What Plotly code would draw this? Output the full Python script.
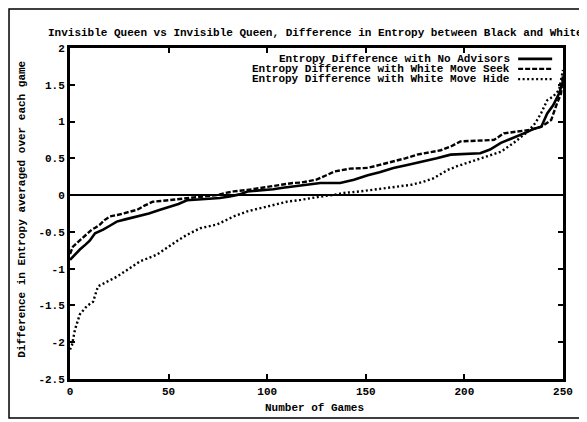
import plotly.graph_objects as go

# ---------------- data ----------------
games_no_adv = [0, 1, 3, 5, 8, 10, 12.7, 14.5, 16.8, 20, 23.7, 28, 34, 40, 45.7, 50.8, 55, 59.3,
                65, 71, 76, 81, 86, 90, 96, 103, 108, 113, 118, 122, 127, 132, 137, 144, 151,
                157, 164, 171, 179, 186, 193, 200, 208, 213, 218.5, 223, 228.7, 232, 235, 239,
                242, 245, 248, 250]
entropy_no_adv = [-0.88, -0.85, -0.80, -0.74, -0.67, -0.62, -0.52, -0.50, -0.47, -0.42, -0.36,
                  -0.33, -0.29, -0.25, -0.20, -0.16, -0.12, -0.07, -0.06, -0.05, -0.04, -0.02,
                  0.01, 0.05, 0.06, 0.08, 0.10, 0.115, 0.13, 0.14, 0.165, 0.165, 0.165, 0.21,
                  0.27, 0.31, 0.37, 0.41, 0.455, 0.50, 0.55, 0.56, 0.57, 0.62, 0.71, 0.76, 0.82,
                  0.86, 0.90, 0.93, 1.11, 1.22, 1.38, 1.55]

games_seek = [0, 1.5, 4, 6.6, 9, 11, 13, 15.2, 17.5, 20.3, 24, 28.8, 34, 38, 42, 46, 51, 55,
              59.3, 65, 70, 74.5, 79, 83, 90, 95, 100, 106, 113, 117, 121, 125, 130, 134, 142,
              151, 157, 164, 170, 176, 182, 188, 193, 198, 206.6, 215, 220, 227, 234, 239, 244,
              247, 249, 250]
entropy_seek = [-0.80, -0.70, -0.64, -0.58, -0.52, -0.47, -0.44, -0.40, -0.34, -0.29, -0.27,
                -0.24, -0.20, -0.14, -0.09, -0.08, -0.065, -0.05, -0.04, -0.03, -0.01, 0.0,
                0.03, 0.05, 0.07, 0.09, 0.11, 0.13, 0.165, 0.17, 0.19, 0.21, 0.27, 0.32, 0.36,
                0.37, 0.41, 0.455, 0.50, 0.55, 0.58, 0.61, 0.66, 0.73, 0.74, 0.75, 0.84, 0.86,
                0.89, 0.93, 1.02, 1.25, 1.38, 1.65]

games_hide = [0, 1, 2.5, 5, 8.5, 11.7, 14.2, 18.6, 23.7, 28.8, 35.6, 44, 50.8, 55, 59.3, 66,
              74.5, 79, 83, 90, 100, 110, 117, 122, 127, 133, 139, 147, 153, 159, 166, 173,
              179, 184.5, 191.4, 196, 201.6, 206, 210, 214, 218.5, 225, 229, 232, 236, 239,
              242, 245, 248, 250]
entropy_hide = [-2.10, -2.04, -1.83, -1.62, -1.51, -1.45, -1.24, -1.18, -1.11, -1.02, -0.90,
                -0.81, -0.68, -0.61, -0.54, -0.45, -0.40, -0.34, -0.29, -0.22, -0.16, -0.09,
                -0.065, -0.04, -0.02, 0.0, 0.03, 0.05, 0.07, 0.10, 0.12, 0.14, 0.18, 0.23, 0.34,
                0.39, 0.44, 0.48, 0.52, 0.55, 0.59, 0.71, 0.79, 0.86, 0.98, 1.12, 1.29, 1.34,
                1.43, 1.70]

series_names = ["Entropy Difference with No Advisors",
                "Entropy Difference with White Move Seek",
                "Entropy Difference with White Move Hide"]

x_tick_vals = [0, 50, 100, 150, 200, 250]
x_tick_text = ["0", "50", "100", "150", "200", "250"]
y_tick_vals = [-2.5, -2, -1.5, -1, -0.5, 0, 0.5, 1, 1.5, 2]
y_tick_text = ["-2.5", "-2", "-1.5", "-1", "-0.5", "0", "0.5", "1", "1.5", "2"]

title_text = "Invisible Queen vs Invisible Queen, Difference in Entropy between Black and White"
x_title = "Number of Games"
y_title = "Difference in Entropy averaged over each game"

# ---------------- styling ----------------
FONT = "Liberation Mono"
TXT = dict(family=FONT, size=11, color="black", weight="bold")
styles = [dict(color="black", width=2.6, dash="solid"),
          dict(color="black", width=2.4, dash="5px,2px"),
          dict(color="black", width=2.4, dash="2px,2.5px")]

fig = go.Figure()
for xs, ys, name, st in zip([games_no_adv, games_seek, games_hide],
                            [entropy_no_adv, entropy_seek, entropy_hide],
                            series_names, styles):
    fig.add_trace(go.Scatter(x=xs, y=ys, mode="lines", name=name, line=st,
                             showlegend=False))

# custom legend: text right-aligned, line sample to the right
leg_y = [0.967, 0.937, 0.906]
for name, st, yy in zip(series_names, styles, leg_y):
    fig.add_annotation(x=0.897, y=yy, xref="paper", yref="paper", text=name,
                       showarrow=False, xanchor="right", yanchor="middle",
                       font=TXT)
    fig.add_shape(type="line", xref="paper", yref="paper", x0=0.909, x1=0.978,
                  y0=yy, y1=yy, line=st)

# title and axis titles as annotations for exact placement
fig.add_annotation(x=0.497, y=1.045, xref="paper", yref="paper", text=title_text,
                   showarrow=False, xanchor="center", yanchor="middle", font=TXT)
fig.add_annotation(x=0.495, y=-0.0876, xref="paper", yref="paper", text=x_title,
                   showarrow=False, xanchor="center", yanchor="middle", font=TXT)
fig.add_annotation(x=-0.0974, y=0.514, xref="paper", yref="paper", text=y_title,
                   showarrow=False, xanchor="center", yanchor="middle", textangle=-90,
                   font=TXT)

# outer frame around the whole figure
fig.add_shape(type="rect", xref="paper", yref="paper", x0=-0.1237, x1=1.047,
              y0=-0.118, y1=1.118, line=dict(color="black", width=1.5))

axis_common = dict(showline=True, linecolor="black", linewidth=3, mirror="ticks",
                   ticks="inside", ticklen=5, tickwidth=2, tickcolor="black",
                   showgrid=False, automargin=False,
                   tickfont=TXT)

# page body has an 8px default margin, so the figure is sized/offset to compensate
fig.update_layout(
    width=579, height=414,
    margin=dict(l=62, r=24, t=40, b=43),
    paper_bgcolor="white", plot_bgcolor="white",
    xaxis=dict(range=[0, 250], tickvals=x_tick_vals, ticktext=x_tick_text,
               zeroline=False, **axis_common),
    yaxis=dict(range=[-2.5, 2], tickvals=y_tick_vals, ticktext=y_tick_text,
               zeroline=True, zerolinecolor="black", zerolinewidth=2,
               **axis_common),
)

fig.write_html("out.html")
